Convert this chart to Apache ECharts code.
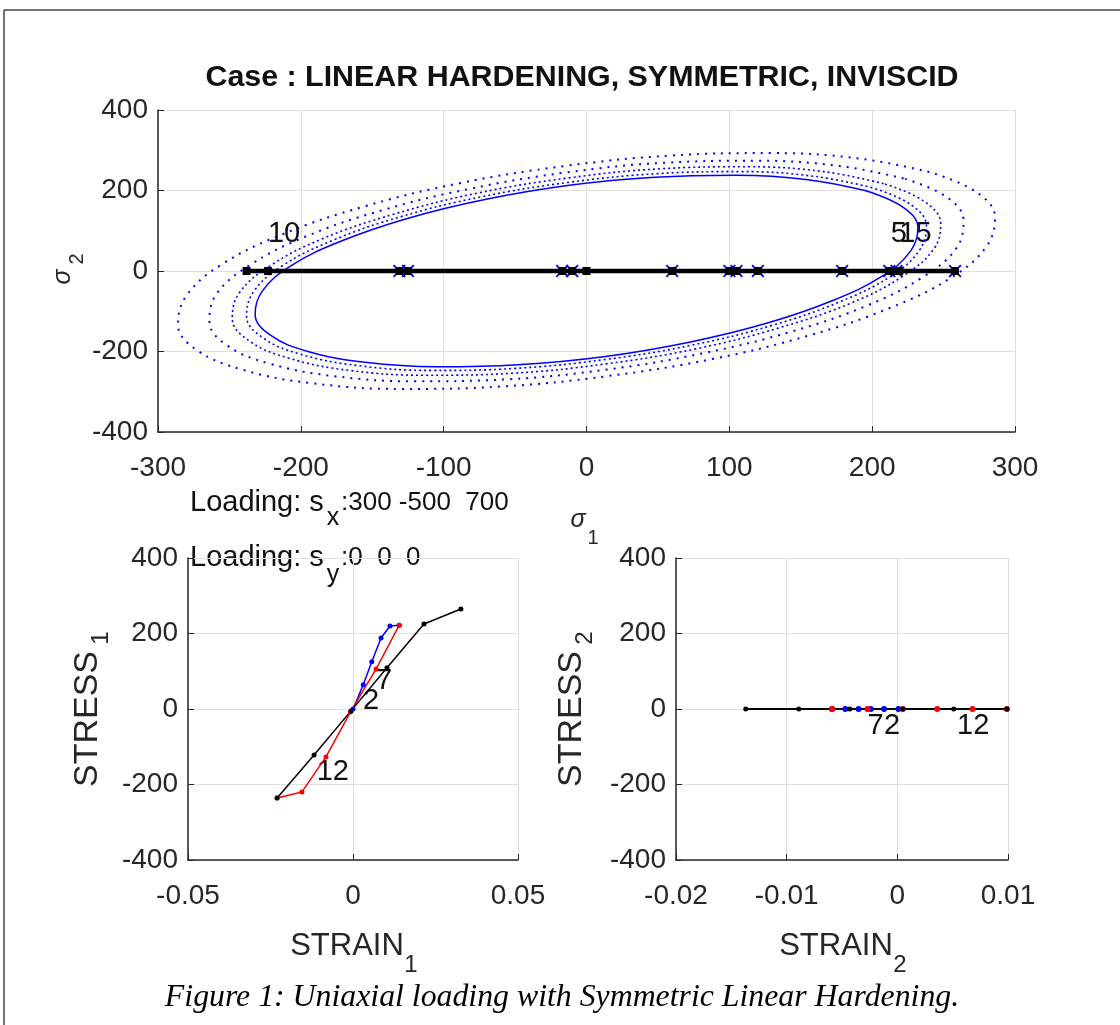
<!DOCTYPE html>
<html>
<head>
<meta charset="utf-8">
<title>Uniaxial loading with Symmetric Linear Hardening</title>
<script src="https://cdn.jsdelivr.net/npm/echarts@6/dist/echarts.min.js"></script>
<style>
  html, body { margin: 0; padding: 0; background: #fff; }
  #main { width: 1120px; height: 1025px; }
</style>
</head>
<body>
<div id="main"></div>
<script>
// ---- top plot: yield surfaces in (sigma1, sigma2) ----
var yieldSurf1 = [[195,200],[155,227],[105,238],[48,233],[-12,213],[-72,177],[-126,130],[-172,74],[-207,13],[-227,-50],[-232,-108],[-221,-160],[-195,-200],[-155,-227],[-105,-238],[-48,-233],[12,-213],[72,-177],[126,-130],[172,-74],[207,-13],[227,50],[232,108],[221,160],[195,200]];
var yieldSurf2 = [[200,207],[160,235],[108,247],[50,242],[-13,220],[-74,184],[-130,135],[-177,77],[-213,13],[-233,-51],[-238,-112],[-227,-165],[-200,-207],[-160,-235],[-108,-247],[-50,-242],[13,-220],[74,-184],[130,-135],[177,-77],[213,-13],[233,51],[238,112],[227,165],[200,207]];
var yieldSurf3 = [[208,217],[166,247],[113,259],[52,254],[-13,231],[-77,193],[-135,141],[-185,80],[-221,14],[-243,-54],[-248,-118],[-236,-174],[-208,-217],[-166,-247],[-113,-259],[-52,-254],[13,-231],[77,-193],[135,-141],[185,-80],[221,-14],[243,54],[248,118],[236,174],[208,217]];
var yieldSurf4 = [[222,230],[177,261],[120,274],[55,269],[-14,245],[-82,204],[-144,150],[-197,85],[-236,14],[-259,-57],[-264,-125],[-252,-184],[-222,-230],[-177,-261],[-120,-274],[-55,-269],[14,-245],[82,-204],[144,-150],[197,-85],[236,-14],[259,57],[264,125],[252,184],[222,230]];
var yieldSurf5 = [[240,246],[192,279],[130,293],[60,287],[-15,261],[-89,218],[-156,160],[-213,91],[-256,15],[-280,-61],[-286,-133],[-273,-196],[-240,-246],[-192,-279],[-130,-293],[-60,-287],[15,-261],[89,-218],[156,-160],[213,-91],[256,-15],[280,61],[286,133],[273,196],[240,246]];

// stress path on sigma2 = 0
var pathSig1 = [-238, -223, -131, -125, -17, -10, 0, 60, 100, 105, 120, 179, 212, 217, 219, 258];
var crossSig1 = [-131, -125, -17, -10, 60, 100, 105, 120, 179, 212, 217, 258];
var topLabels = ['10', '5', '15'];
var topLabelSig1 = [-223, 213, 219];
var topLabelSig2 = [92, 92, 92];

// ---- bottom left: STRESS1 vs STRAIN1 ----
var blueStrain1 = [0, 0.0031, 0.0057, 0.0085, 0.0112, 0.014];
var blueStress1 = [0, 64, 125, 188, 220, 222];
var redStrain1 = [0.014, 0.007, -0.0008, -0.0082, -0.0155, -0.023];
var redStress1 = [222, 106, -8, -127, -220, -236];
var blackStrain1 = [-0.023, -0.0118, -0.0006, 0.0103, 0.0215, 0.0327];
var blackStress1 = [-236, -122, -5, 109, 225, 265];
var leftLabels = ['2', '7', '12'];
var leftLabelStrain = [0.003, 0.007, -0.011];
var leftLabelStress = [22, 74, -166];

// ---- bottom right: STRESS2 vs STRAIN2 ----
var blueStrain2 = [0.0001, -0.0012, -0.0024, -0.0035, -0.0047, -0.0059];
var redStrain2 = [-0.0059, -0.0027, 0.0005, 0.0036, 0.0068, 0.0099];
var blackStrain2 = [0.0099, 0.0051, 0.0005, -0.0043, -0.0089, -0.0137];
var stress2 = [0, 0, 0, 0, 0, 0];
var rightLabels = ['7', '2', '12'];
var rightLabelStrain = [-0.0027, -0.0012, 0.0054];
var rightLabelStress = [-46, -46, -46];

var FONT = "'Liberation Sans', Arial, Helvetica, sans-serif";
var INK = '#262626';

function pairs(xs, ys) {
    return xs.map(function (x, i) { return [x, ys[i]]; });
}
function labelData(names, xs, ys) {
    return names.map(function (n, i) { return { name: n, value: [xs[i], ys[i]] }; });
}

function valueAxis(gridIndex, min, max, interval) {
    return {
        type: 'value', gridIndex: gridIndex, min: min, max: max, interval: interval,
        axisLine: { show: true, onZero: false, lineStyle: { color: INK, width: 1.5 } },
        axisTick: { show: true, inside: true, length: 6, lineStyle: { color: INK } },
        axisLabel: { color: INK, fontFamily: FONT, fontSize: 28, margin: 14 },
        splitLine: { show: true, lineStyle: { color: '#e0e0e0', width: 1 } }
    };
}

var crossPath = 'path://M0,1L1,0L5,4L9,0L10,1L6,5L10,9L9,10L5,6L1,10L0,9L4,5Z';

var myChart = echarts.init(document.getElementById('main'));

var xAxes = [
    valueAxis(0, -300, 300, 100),
    valueAxis(1, -0.05, 0.05, 0.05),
    valueAxis(2, -0.02, 0.01, 0.01)
];
xAxes.forEach(function (a) { a.axisLabel.margin = 22; });
var yAxes = [
    valueAxis(0, -400, 400, 200),
    valueAxis(1, -400, 400, 200),
    valueAxis(2, -400, 400, 200)
];
yAxes.forEach(function (a) { a.axisLabel.margin = 10; });

function surface(data, dash, width) {
    return {
        type: 'line', xAxisIndex: 0, yAxisIndex: 0, data: data,
        showSymbol: false, smooth: 0.4, silent: true,
        lineStyle: { color: '#0000ff', width: width, type: dash }
    };
}

function textLabels(x, y, data) {
    return {
        type: 'scatter', xAxisIndex: x, yAxisIndex: y, data: data,
        symbolSize: 0, silent: true, itemStyle: { opacity: 1 },
        label: { show: true, position: 'right', distance: 0, formatter: '{b}',
                 color: '#111', fontFamily: FONT, fontSize: 29 }
    };
}

function txt(x, y, text, font, opts) {
    var el = { type: 'text', x: x, y: y, style: { text: text, fill: INK, font: font,
        align: 'center', verticalAlign: 'middle' } };
    if (opts && opts.rotate) { el.rotation = Math.PI / 2; }
    if (opts && opts.align) { el.style.align = opts.align; }
    if (opts && opts.fill) { el.style.fill = opts.fill; }
    return el;
}

var option = {
    animation: false,
    backgroundColor: '#ffffff',
    grid: [
        { left: 158, top: 110, width: 857, height: 322 },
        { left: 188, top: 558, width: 330, height: 302 },
        { left: 676, top: 558, width: 332, height: 302 }
    ],
    xAxis: xAxes,
    yAxis: yAxes,
    series: [
        surface(yieldSurf5, [2, 6], 2),
        surface(yieldSurf4, [2, 6], 2),
        surface(yieldSurf3, [2, 3], 1.6),
        surface(yieldSurf2, [2, 3], 1.6),
        surface(yieldSurf1, 'solid', 1.5),
        {
            type: 'scatter', xAxisIndex: 0, yAxisIndex: 0,
            data: crossSig1.map(function (s) { return [s, 0]; }),
            symbol: crossPath, symbolSize: 13,
            itemStyle: { color: '#0000ff', opacity: 1 }
        },
        {
            type: 'line', xAxisIndex: 0, yAxisIndex: 0,
            data: pathSig1.map(function (s) { return [s, 0]; }),
            symbol: 'rect', symbolSize: 8, showAllSymbol: true,
            lineStyle: { color: '#000', width: 4.5 },
            itemStyle: { color: '#000' }
        },
        textLabels(0, 0, labelData(topLabels, topLabelSig1, topLabelSig2)),

        {
            type: 'line', xAxisIndex: 1, yAxisIndex: 1, data: pairs(blueStrain1, blueStress1),
            symbol: 'circle', symbolSize: 5, showAllSymbol: true,
            lineStyle: { color: '#0000ff', width: 1.5 }, itemStyle: { color: '#0000ff' }
        },
        {
            type: 'line', xAxisIndex: 1, yAxisIndex: 1, data: pairs(redStrain1, redStress1),
            symbol: 'circle', symbolSize: 5, showAllSymbol: true,
            lineStyle: { color: '#ff0000', width: 1.5 }, itemStyle: { color: '#ff0000' }
        },
        {
            type: 'line', xAxisIndex: 1, yAxisIndex: 1, data: pairs(blackStrain1, blackStress1),
            symbol: 'circle', symbolSize: 5, showAllSymbol: true,
            lineStyle: { color: '#000', width: 1.5 }, itemStyle: { color: '#000' }
        },
        textLabels(1, 1, labelData(leftLabels, leftLabelStrain, leftLabelStress)),

        {
            type: 'line', xAxisIndex: 2, yAxisIndex: 2, data: pairs(blueStrain2, stress2),
            symbol: 'circle', symbolSize: 6, showAllSymbol: true,
            lineStyle: { color: '#0000ff', width: 1 }, itemStyle: { color: '#0000ff' }
        },
        {
            type: 'line', xAxisIndex: 2, yAxisIndex: 2, data: pairs(redStrain2, stress2),
            symbol: 'circle', symbolSize: 6, showAllSymbol: true,
            lineStyle: { color: '#ff0000', width: 1 }, itemStyle: { color: '#ff0000' }
        },
        {
            type: 'line', xAxisIndex: 2, yAxisIndex: 2, data: pairs(blackStrain2, stress2),
            symbol: 'circle', symbolSize: 5, showAllSymbol: true,
            lineStyle: { color: '#000', width: 2 }, itemStyle: { color: '#000' }
        },
        textLabels(2, 2, labelData(rightLabels, rightLabelStrain, rightLabelStress))
    ],
    graphic: [
        // figure frame
        { type: 'line', shape: { x1: 4, y1: 10, x2: 1120, y2: 10 }, style: { stroke: '#444', lineWidth: 1.5 } },
        { type: 'line', shape: { x1: 4, y1: 10, x2: 4, y2: 1025 }, style: { stroke: '#444', lineWidth: 1.5 } },
        // title
        txt(582, 78, 'Case : LINEAR HARDENING, SYMMETRIC, INVISCID', 'bold 30.4px ' + FONT, { fill: '#111' }),
        // axis names, top plot
        txt(63, 277, 'σ', 'italic 25px ' + FONT, { rotate: true }),
        txt(77, 259, '2', '20px ' + FONT, { rotate: true }),
        txt(578, 520, 'σ', 'italic 25px ' + FONT),
        txt(593, 538, '1', '20px ' + FONT),
        // axis names, bottom plots
        txt(88, 719, 'STRESS', '34px ' + FONT, { rotate: true }),
        txt(101, 638, '1', '24px ' + FONT, { rotate: true }),
        txt(572, 719, 'STRESS', '34px ' + FONT, { rotate: true }),
        txt(585, 638, '2', '24px ' + FONT, { rotate: true }),
        txt(347, 946, 'STRAIN', '31px ' + FONT),
        txt(411, 965, '1', '24px ' + FONT),
        txt(836, 946, 'STRAIN', '31px ' + FONT),
        txt(900, 965, '2', '24px ' + FONT),
        // loading annotations
        txt(190, 503, 'Loading: s', '29px ' + FONT, { align: 'left', fill: '#111' }),
        txt(333, 518, 'x', '25px ' + FONT, { fill: '#111' }),
        txt(341, 503, ':300 -500  700', '26px ' + FONT, { align: 'left', fill: '#111' }),
        txt(190, 558, 'Loading: s', '29px ' + FONT, { align: 'left', fill: '#111' }),
        txt(333, 575, 'y', '25px ' + FONT, { fill: '#111' }),
        txt(341, 558, ':0  0  0', '26px ' + FONT, { align: 'left', fill: '#111' }),
        // caption
        txt(562, 998, 'Figure 1: Uniaxial loading with Symmetric Linear Hardening.',
            'italic 31.8px "Liberation Serif", "DejaVu Serif", serif', { fill: '#000' })
    ]
};

myChart.setOption(option);
</script>
</body>
</html>
